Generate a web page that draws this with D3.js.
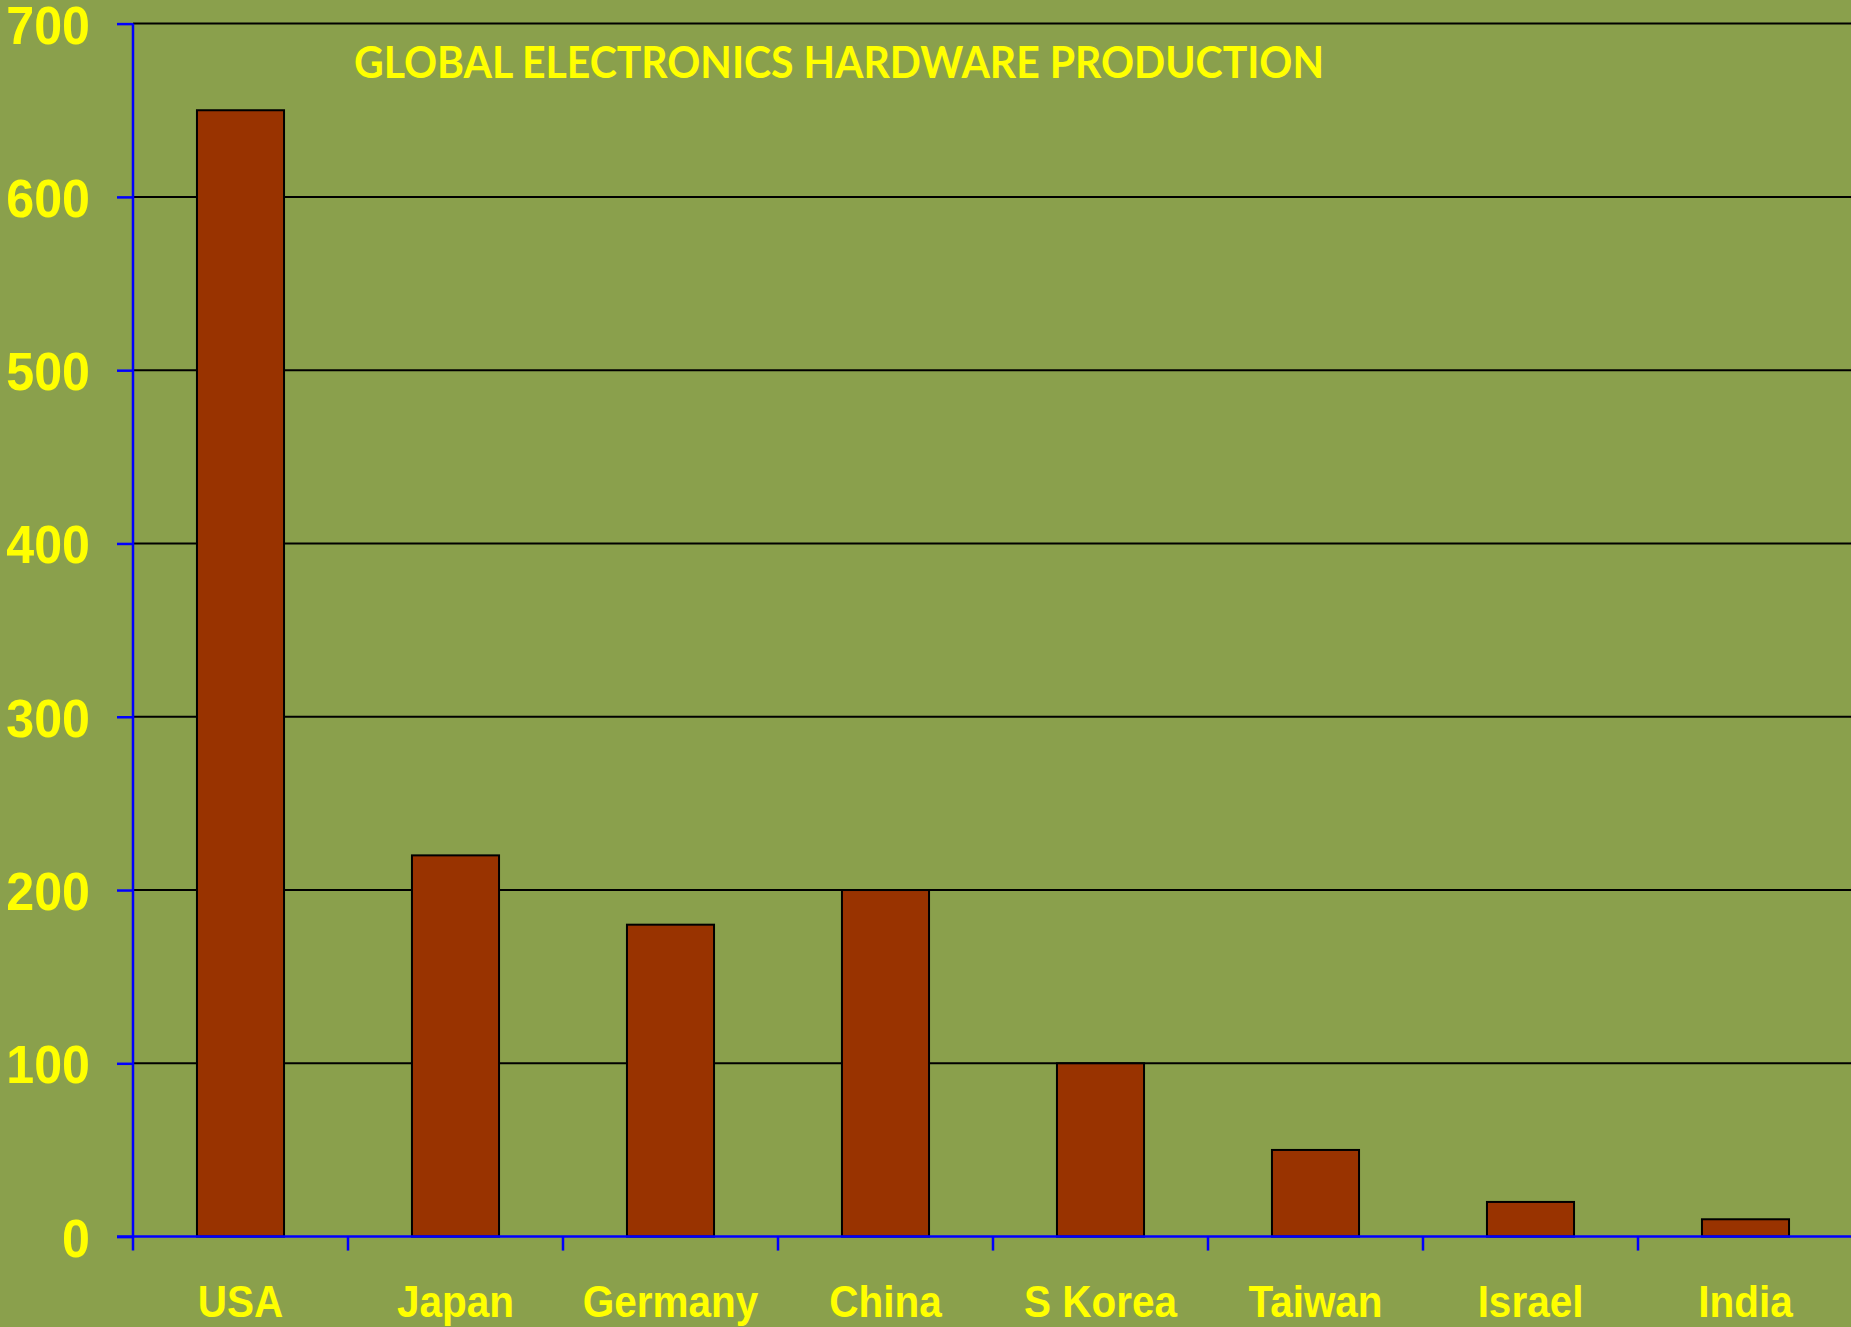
<!DOCTYPE html>
<html>
<head>
<meta charset="utf-8">
<script src="https://cdn.jsdelivr.net/npm/d3@7"></script>
<style>
  html, body { margin: 0; padding: 0; background: #8aa04c; overflow: hidden; }
  svg { display: block; }
</style>
</head>
<body>
<svg id="chart" width="1851" height="1327"></svg>
<script>
const categories = ["USA", "Japan", "Germany", "China", "S Korea", "Taiwan", "Israel", "India"];
const values = [650, 220, 180, 200, 100, 50, 20, 10];
const yTicks = [0, 100, 200, 300, 400, 500, 600, 700];
const title = "GLOBAL ELECTRONICS HARDWARE PRODUCTION";

(function () {
const W = 1851, H = 1327;
const svg = d3.select("#chart");
svg.append("rect").attr("width", W).attr("height", H).attr("fill", "#8aa04c");

const plotLeft = 133, plotRight = 1853, plotTop = 23.6, plotBottom = 1236.6;

const x = d3.scaleBand().domain(categories).range([plotLeft, plotRight])
  .paddingInner(0.595).paddingOuter(0.2975);
const y = d3.scaleLinear().domain([0, 700]).range([plotBottom, plotTop]);

// gridlines
svg.append("g").selectAll("line").data(yTicks.filter(t => t > 0)).join("line")
  .attr("x1", plotLeft).attr("x2", W)
  .attr("y1", d => y(d)).attr("y2", d => y(d))
  .attr("stroke", "#000").attr("stroke-width", 2);

// bars
svg.append("g").selectAll("rect").data(values).join("rect")
  .attr("x", (d, i) => x(categories[i]))
  .attr("width", x.bandwidth())
  .attr("y", d => y(d))
  .attr("height", d => y(0) - y(d))
  .attr("fill", "#993300")
  .attr("stroke", "#000")
  .attr("stroke-width", 2);

// y axis
const yAxis = svg.append("g").attr("transform", `translate(${plotLeft},0)`)
  .call(d3.axisLeft(y).tickValues(yTicks).tickSize(16).tickSizeOuter(0).tickPadding(0));
yAxis.select(".domain").remove();
yAxis.selectAll(".tick line").attr("stroke", "#0000ff").attr("stroke-width", 2.5);
const ySx = 0.93;
yAxis.selectAll(".tick text")
  .attr("fill", "#ffff00")
  .attr("font-family", "'Liberation Sans', Arial, sans-serif")
  .attr("font-weight", "bold")
  .attr("font-size", 54)
  .attr("text-anchor", "end")
  .attr("x", -43 / ySx)
  .attr("dy", "0.36em")
  .attr("transform", `scale(${ySx},1)`);
svg.append("line").attr("x1", plotLeft).attr("x2", plotLeft).attr("y1", plotTop).attr("y2", plotBottom + 14)
  .attr("stroke", "#0000ff").attr("stroke-width", 2.5);

// x axis
const step = x.step();
const boundaries = categories.map((c, i) => plotLeft + i * step);
svg.append("line").attr("x1", plotLeft - 16).attr("x2", W).attr("y1", plotBottom).attr("y2", plotBottom)
  .attr("stroke", "#0000ff").attr("stroke-width", 2.5);
svg.append("g").selectAll("line").data(boundaries.slice(1)).join("line")
  .attr("x1", d => d).attr("x2", d => d).attr("y1", plotBottom).attr("y2", plotBottom + 14)
  .attr("stroke", "#0000ff").attr("stroke-width", 2.5);

const xSx = 0.92;
svg.append("g").selectAll("text").data(categories).join("text")
  .attr("transform", d => `translate(${x(d) + x.bandwidth() / 2},1317) scale(${xSx},1)`)
  .attr("text-anchor", "middle")
  .attr("fill", "#ffff00")
  .attr("font-family", "'Liberation Sans', Arial, sans-serif")
  .attr("font-weight", "bold")
  .attr("font-size", 44)
  .text(d => d);

// title
svg.append("text")
  .attr("x", 354).attr("y", 78)
  .attr("fill", "#ffff00")
  .attr("font-family", "Lato, 'Open Sans', sans-serif")
  .attr("font-weight", "bold")
  .attr("font-size", 44)
  .attr("textLength", 970)
  .attr("lengthAdjust", "spacingAndGlyphs")
  .text(title);
})();
</script>
</body>
</html>
